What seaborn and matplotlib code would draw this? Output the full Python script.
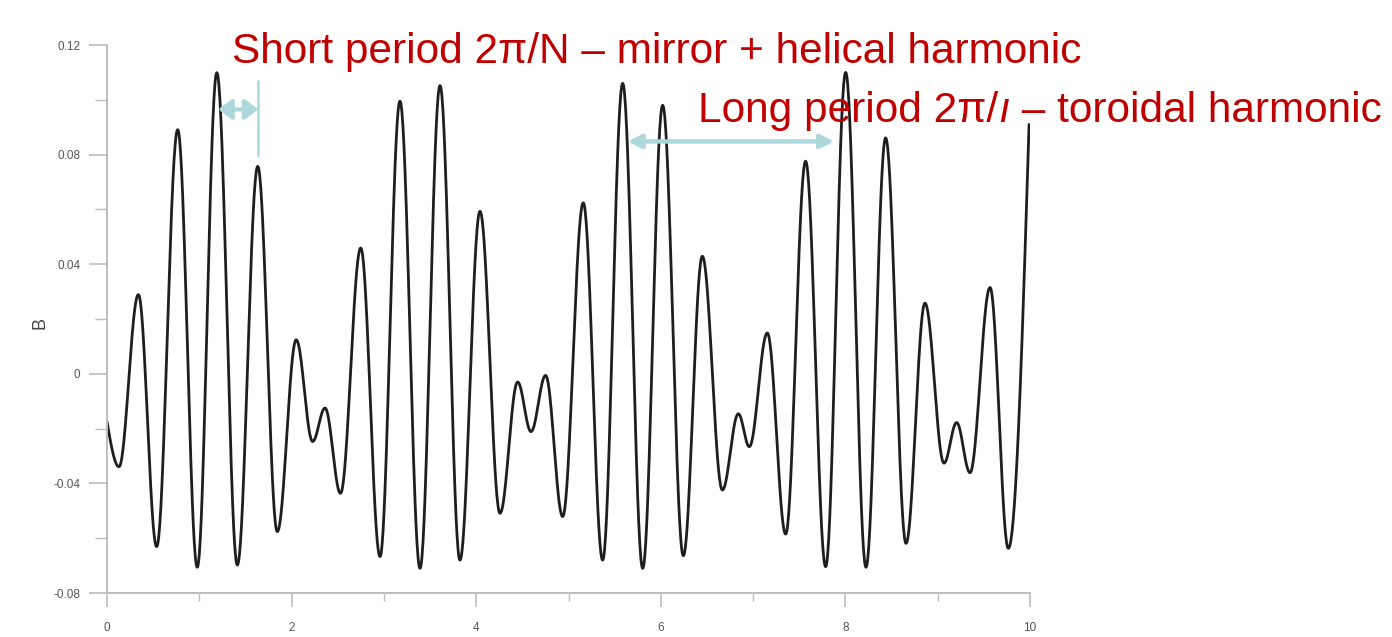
import numpy as np
import pandas as pd
import matplotlib
matplotlib.use("Agg")
import matplotlib.pyplot as plt
import seaborn as sns

# ---- data: local extrema of B (plus start / end points)
ext_x = [0.0, 0.13, 0.34, 0.538, 0.766, 0.978, 1.19, 1.412, 1.633, 1.845,
         2.05, 2.228, 2.362, 2.53, 2.749, 2.958, 3.174, 3.391, 3.608, 3.824,
         4.041, 4.258, 4.449, 4.594, 4.752, 4.937, 5.160, 5.370, 5.587, 5.804,
         6.020, 6.244, 6.45, 6.667, 6.84, 6.959, 7.154, 7.353, 7.569, 7.786,
         8.003, 8.223, 8.436, 8.657, 8.862, 9.068, 9.205, 9.35, 9.567, 9.765,
         9.99]
ext_b = [-0.0174, -0.0339, 0.0289, -0.0631, 0.0891, -0.0706, 0.1099, -0.0698, 0.0757, -0.0576,
         0.0124, -0.0247, -0.0125, -0.0436, 0.0459, -0.0667, 0.0995, -0.0710, 0.1052, -0.0680,
         0.0593, -0.0509, -0.0030, -0.0211, -0.0006, -0.0521, 0.0624, -0.0680, 0.1060, -0.0710,
         0.0980, -0.0664, 0.0429, -0.0424, -0.0146, -0.0266, 0.0149, -0.0585, 0.0776, -0.0704,
         0.1100, -0.0706, 0.0861, -0.0619, 0.0258, -0.0326, -0.0178, -0.0361, 0.0315, -0.0637,
         0.0910]

x_ticks = [0, 2, 4, 6, 8, 10]
x_minor = [1, 3, 5, 7, 9]
y_ticks = [-0.08, -0.04, 0, 0.04, 0.08, 0.12]
y_tick_labels = ["-0.08", "-0.04", "0", "0.04", "0.08", "0.12"]
y_minor = [-0.06, -0.02, 0.02, 0.06, 0.10]

title_short = "Short period 2\u03c0/N \u2013 mirror + helical harmonic"
title_long_parts = ["Long period 2\u03c0/", "\u0131", " \u2013 toroidal harmonic"]

# ---- smooth rendering of the curve between extrema (cosine-shaped segments)
xs, ys = [], []
n = len(ext_x)
for i in range(n - 1):
    x0, x1 = ext_x[i], ext_x[i + 1]
    y0, y1 = ext_b[i], ext_b[i + 1]
    t = np.linspace(0, 1, 40, endpoint=(i == n - 2))
    if i == 0:
        s = np.sin(np.pi / 2 * t)
    elif i == n - 2:
        s = 1 - np.cos(np.pi / 2 * t)
    else:
        s = (1 - np.cos(np.pi * t)) / 2
    xs.append(x0 + (x1 - x0) * t)
    ys.append(y0 + (y1 - y0) * s)
df = pd.DataFrame({"x": np.concatenate(xs), "B": np.concatenate(ys)})

# ---- style
sns.set_style("ticks")
plt.rcParams["font.family"] = ["Liberation Sans", "DejaVu Sans"]

W, H = 1392, 637
fig = plt.figure(figsize=(W / 100, H / 100), dpi=100)
ax = fig.add_axes([107 / W, 44 / H, 923 / W, 548 / H])

sns.lineplot(data=df, x="x", y="B", ax=ax, color="#1e1e1e", linewidth=2.0,
             sort=False, estimator=None)

ax.set_xlim(0, 10)
ax.set_ylim(-0.08, 0.12)
ax.set_xticks(x_ticks)
ax.set_xticks(x_minor, minor=True)
ax.set_xticklabels([str(v) for v in x_ticks])
ax.set_yticks(y_ticks)
ax.set_yticks(y_minor, minor=True)
ax.set_yticklabels(y_tick_labels)
ax.set_xlabel("")
ax.set_ylabel("")
fig.text(40 / W, 1 - 323 / H, "B", rotation=90, fontsize=13, color="#444444",
         ha="center", va="center")

for side in ["top", "right"]:
    ax.spines[side].set_visible(False)
for side in ["left", "bottom"]:
    ax.spines[side].set_color("#bdbdbd")
    ax.spines[side].set_linewidth(1.4)

ax.tick_params(axis="y", which="major", length=13, width=1.2, color="#bdbdbd",
               labelsize=8.5, labelcolor="#555555", pad=6, direction="out")
ax.tick_params(axis="y", which="minor", length=8.5, width=1.0, color="#bdbdbd", direction="out")
ax.tick_params(axis="x", which="major", length=10, width=1.2, color="#bdbdbd",
               labelsize=8.5, labelcolor="#555555", pad=11, direction="out")
ax.tick_params(axis="x", which="minor", length=6, width=1.0, color="#bdbdbd", direction="out")

red = "#c00000"
arrow_c = "#acd8dc"
fs = 30.5

# short period annotation
fig.text(232 / W, 1 - 63 / H, title_short, color=red, fontsize=fs,
         ha="left", va="baseline")
ax.annotate("", xy=(1.205, 0.0965), xytext=(1.64, 0.0965),
            arrowprops=dict(arrowstyle="<|-|>,head_length=0.4,head_width=0.3",
                            color=arrow_c, lw=3, mutation_scale=20,
                            shrinkA=0, shrinkB=0))
ax.plot([1.64, 1.64], [0.0795, 0.1070], color=arrow_c, lw=1.8)

# long period annotation
ax.annotate("", xy=(5.64, 0.0848), xytext=(7.88, 0.0848),
            arrowprops=dict(arrowstyle="<|-|>", color=arrow_c, lw=3.2,
                            mutation_scale=20, shrinkA=0, shrinkB=0))

renderer = fig.canvas.get_renderer()
xpos = 698 / W
ybase = 1 - 122 / H
styles = ["normal", "italic", "normal"]
for part, st in zip(title_long_parts, styles):
    t = fig.text(xpos, ybase, part, color=red, fontsize=fs, ha="left",
                 va="baseline", style=st)
    bb = t.get_window_extent(renderer=renderer)
    xpos = bb.x1 / W

fig.savefig("out.png", dpi=100)
